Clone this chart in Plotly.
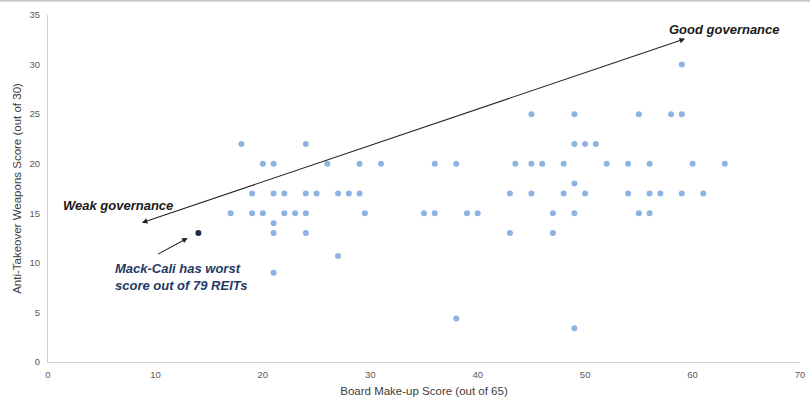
import plotly.graph_objects as go

# Board Make-up Score (x) and Anti-Takeover Weapons Score (y) for REITs
board_scores = [59,
                45, 49, 55, 58, 59,
                18, 24, 49, 50, 51,
                20, 21, 26, 29, 31, 36, 38, 43.5, 45, 46, 48, 52, 54, 56, 60, 63,
                49,
                19, 21, 22, 24, 25, 27, 28, 29, 43, 45, 48, 50, 54, 56, 57, 59, 61,
                17, 19, 20, 22, 23, 24, 29.5, 35, 36, 39, 40, 47, 49, 55, 56,
                21,
                21, 24, 43, 47,
                27, 21, 38, 49]
atw_scores = [30,
              25, 25, 25, 25, 25,
              22, 22, 22, 22, 22,
              20, 20, 20, 20, 20, 20, 20, 20, 20, 20, 20, 20, 20, 20, 20, 20,
              18,
              17, 17, 17, 17, 17, 17, 17, 17, 17, 17, 17, 17, 17, 17, 17, 17, 17,
              15, 15, 15, 15, 15, 15, 15, 15, 15, 15, 15, 15, 15, 15, 15,
              14,
              13, 13, 13, 13,
              10.7, 9, 4.4, 3.4]

mack_cali_x = [14]
mack_cali_y = [13]

x_ticks = [0, 10, 20, 30, 40, 50, 60, 70]
y_ticks = [0, 5, 10, 15, 20, 25, 30, 35]

font_family = "Arial, Liberation Sans, sans-serif"

fig = go.Figure()
fig.add_trace(go.Scatter(
    x=board_scores, y=atw_scores, mode="markers",
    marker=dict(size=6, color="#8db3e2"),
    showlegend=False, hoverinfo="x+y"))
fig.add_trace(go.Scatter(
    x=mack_cali_x, y=mack_cali_y, mode="markers",
    marker=dict(size=6, color="#1b2a47"),
    showlegend=False, hoverinfo="x+y"))

# governance double-headed arrow
fig.add_annotation(x=59.3, y=32.6, ax=8.6, ay=14.0, xref="x", yref="y",
                   axref="x", ayref="y", text="", showarrow=True,
                   arrowhead=2, startarrowhead=2, arrowside="end+start",
                   arrowsize=1, startarrowsize=1, arrowwidth=1.1, arrowcolor="#222222")
fig.add_annotation(x=63.0, y=33.5, xref="x", yref="y", text="<b><i>Good governance</i></b>",
                   showarrow=False, font=dict(size=13, color="#1a1a1a", family=font_family))
fig.add_annotation(x=6.5, y=15.8, xref="x", yref="y", text="<b><i>Weak governance</i></b>",
                   showarrow=False, font=dict(size=13, color="#1a1a1a", family=font_family))

# Mack-Cali callout
fig.add_annotation(x=13.0, y=12.5, ax=10.1, ay=10.8, xref="x", yref="y",
                   axref="x", ayref="y", text="", showarrow=True,
                   arrowhead=2, arrowsize=1, arrowwidth=1.1, arrowcolor="#222222")
fig.add_annotation(x=12.4, y=8.6, xref="x", yref="y",
                   text="<b><i>Mack-Cali has worst<br>score out of 79 REITs</i></b>",
                   showarrow=False, align="left",
                   font=dict(size=13, color="#1f3a66", family=font_family))

# thin grey border line at the very top
fig.add_shape(type="line", xref="paper", yref="paper", x0=-0.07, x1=1.02, y0=1.041, y1=1.041,
              line=dict(color="#c8c8c8", width=2))

fig.update_layout(
    width=810, height=403,
    margin=dict(l=48, r=10, t=15, b=41),
    paper_bgcolor="white", plot_bgcolor="white",
    font=dict(family=font_family, size=9, color="#595959"),
    xaxis=dict(range=[0, 70], tickvals=x_ticks, showgrid=False, zeroline=False,
               showline=True, linecolor="#d0d0d0", linewidth=1, ticks="",
               automargin=False, ticklabelstandoff=4,
               tickfont=dict(size=9.5, color="#595959"),
               title=dict(text="Board Make-up Score (out of 65)", standoff=7,
                          font=dict(size=11.5, color="#404040"))),
    yaxis=dict(range=[0, 35], tickvals=y_ticks, showgrid=False, zeroline=False,
               showline=True, linecolor="#d0d0d0", linewidth=1, ticks="",
               automargin=False, ticklabelstandoff=5,
               tickfont=dict(size=9.5, color="#595959"),
               title=dict(text="Anti-Takeover Weapons Score (out of 30)", standoff=5,
                          font=dict(size=11.5, color="#404040"))),
)

fig.write_html("out.html", config={"displayModeBar": False},
               post_script="document.body.style.margin='0';document.body.style.padding='0';")
